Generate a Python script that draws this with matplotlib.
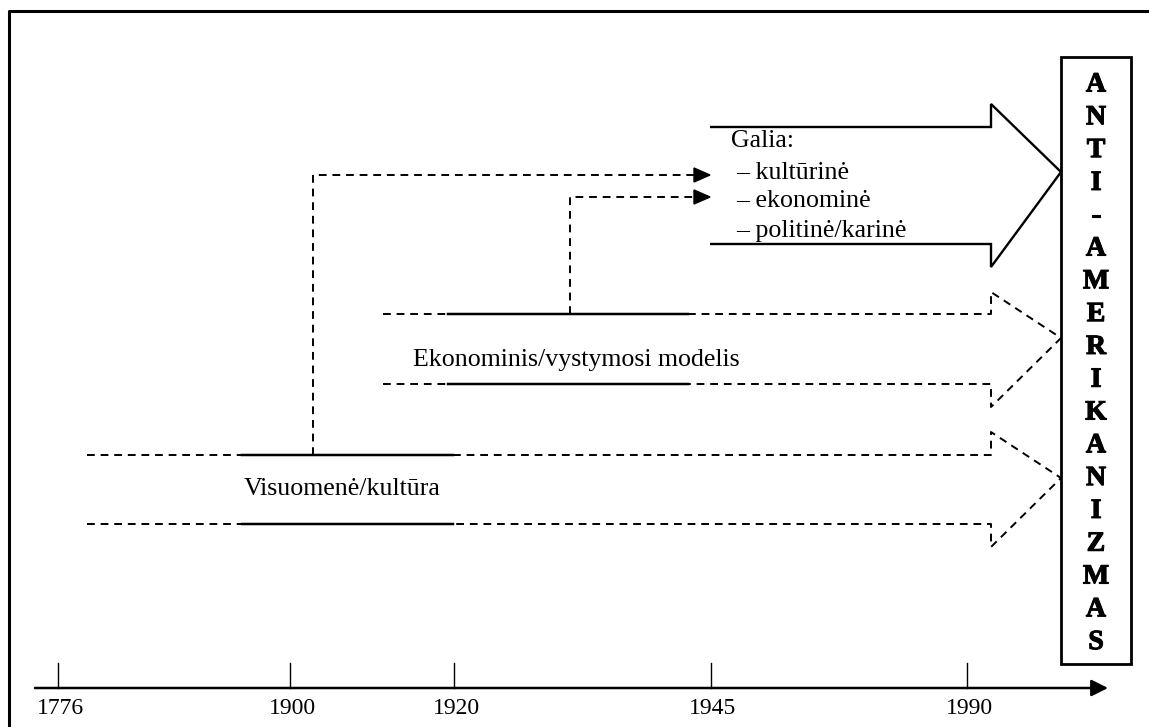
import matplotlib.pyplot as plt
import matplotlib.patheffects as pe
from matplotlib.patches import Polygon, Rectangle

plt.rcParams['font.family'] = ['Liberation Serif', 'DejaVu Serif']

# laiko asis
years = ['1776', '1900', '1920', '1945', '1990']
year_x = [58, 290, 454, 711, 967]
axis_y = 688

# rodykles: (kaire, kaire_vientisa, desine_vientisa, virsus, apacia, galva_virsus, galva_apacia, smaigalys_y)
arrows = {
    'Visuomenė/kultūra': (87, 242, 453, 455, 524, 432, 547, 478),
    'Ekonominis/vystymosi modelis': (383, 448, 688, 314, 384, 292, 407, 338),
}
label_pos = {'Visuomenė/kultūra': (244, 489), 'Ekonominis/vystymosi modelis': (413, 360)}

galia_lines = ['Galia:', '– kultūrinė', '– ekonominė', '– politinė/karinė']
galia_y = [141, 173, 201, 231]
galia_x = [731, 736, 736, 736]

# jungtys (x vertikalios, y nuo, y iki)
connectors = [(313, 455, 175), (570, 314, 197)]

box_word = list('ANTI-AMERIKANIZMAS')
head_x, tip_x = 991, 1061

fig = plt.figure(figsize=(11.49, 7.27), dpi=100)
ax = fig.add_axes([0, 0, 1, 1])
ax.set_xlim(0, 1149)
ax.set_ylim(727, 0)
ax.axis('off')

dash = (0, (4, 3))
lw = 1.4

# remelis
ax.plot([9, 9, 1149], [727, 11, 11], color='black', lw=2.2)

# laiko asis
ax.annotate('', xy=(1108, axis_y), xytext=(35, axis_y),
            arrowprops=dict(arrowstyle='-|>', color='black', lw=1.8,
                            mutation_scale=25, shrinkA=0, shrinkB=0))
for yr, x in zip(years, year_x):
    ax.plot([x, x], [663, axis_y], color='black', lw=1.0)
    ax.text(x + 2, 709, yr, fontsize=17, ha='center', va='center')

# punktyrines rodykles
for name, (x0, s0, s1, top, bot, ht, hb, ty) in arrows.items():
    for y in (top, bot):
        ax.plot([x0, s0], [y, y], color='black', lw=lw, linestyle=dash)
        ax.plot([s0, s1], [y, y], color='black', lw=lw + 0.4)
    ax.plot([s1, head_x, head_x, tip_x, head_x, head_x, s1],
            [top, top, ht, ty, hb, bot, bot],
            color='black', lw=lw, linestyle=dash)
    lx, ly = label_pos[name]
    ax.text(lx, ly, name, fontsize=18.6, ha='left', va='center')

# jungtys su rodyklemis
for cx, y0, y1 in connectors:
    ax.plot([cx, cx, 694], [y0, y1, y1], color='black', lw=lw, linestyle=dash)
    ax.add_patch(Polygon([[694, y1 - 7], [710, y1], [694, y1 + 7]],
                         closed=True, color='black'))

# Galia rodykle
ax.add_patch(Polygon([[710, 127], [head_x, 127], [head_x, 104], [tip_x, 172],
                      [head_x, 267], [head_x, 244], [710, 244]],
                     closed=False, fill=False, edgecolor='black', lw=lw + 0.3))
for t, x, y in zip(galia_lines, galia_x, galia_y):
    ax.text(x, y, t, fontsize=18.6, ha='left', va='center')

# ANTI-AMERIKANIZMAS
ax.add_patch(Rectangle((1061, 57), 70, 607, fill=False, edgecolor='black', lw=2))
for i, ch in enumerate(box_word):
    ax.text(1096, 85 + i * 32.8, ch, fontsize=20, fontweight='bold',
            ha='center', va='center',
            path_effects=[pe.withStroke(linewidth=0.8, foreground='black')])

fig.savefig('out.png', dpi=100)
